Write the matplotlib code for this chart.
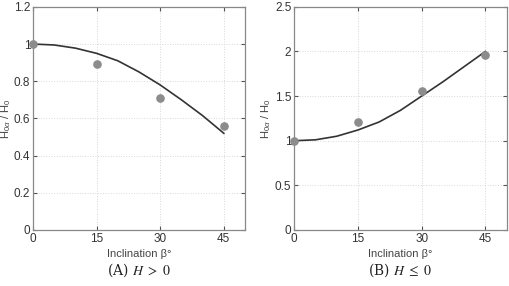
import matplotlib
matplotlib.use("Agg")
import matplotlib.pyplot as plt
from matplotlib.ticker import FormatStrFormatter

plt.rcParams['font.family'] = ['Liberation Sans', 'DejaVu Sans']
plt.rcParams['mathtext.fontset'] = 'custom'
plt.rcParams['mathtext.rm'] = 'Liberation Sans'
plt.rcParams['mathtext.it'] = 'Liberation Sans:italic'

# measured points
beta = [0, 15, 30, 45]
ratio_pos = [1.0, 0.89, 0.71, 0.56]
ratio_neg = [1.0, 1.21, 1.56, 1.96]

# fitted curves
beta_fit = [0, 5, 10, 15, 20, 25, 30, 35, 40, 45]
fit_pos = [1.0, 0.995, 0.978, 0.95, 0.91, 0.85, 0.78, 0.70, 0.615, 0.52]
fit_neg = [1.0, 1.01, 1.05, 1.12, 1.21, 1.34, 1.50, 1.66, 1.83, 2.0]

xticks = [0, 15, 30, 45]
yticks_pos = [0, 0.2, 0.4, 0.6, 0.8, 1.0, 1.2]
yticks_neg = [0, 0.5, 1.0, 1.5, 2.0, 2.5]

fig = plt.figure(figsize=(5.09, 2.86), dpi=100)
ax1 = fig.add_axes([0.0648, 0.196, 0.4165, 0.78])
ax2 = fig.add_axes([0.578, 0.196, 0.4173, 0.78])

panels = [
    (ax1, ratio_pos, fit_pos, yticks_pos, 1.2, r'(A) $H\ >\ 0$', 6),
    (ax2, ratio_neg, fit_neg, yticks_neg, 2.5, r'(B) $H\ \leq\ 0$', 266),
]

for ax, pts, fit, yt, ymax, cap, ylab_x in panels:
    ax.plot(beta_fit, fit, color='#333333', lw=1.2, zorder=3)
    ax.plot(beta, pts, 'o', color='#8c8c8c', ms=5.2, zorder=4, clip_on=False)
    ax.set_xlim(0, 50)
    ax.set_ylim(0, ymax)
    ax.set_xticks(xticks)
    ax.set_yticks(yt)
    ax.yaxis.set_major_formatter(FormatStrFormatter('%g'))
    ax.grid(True, ls=':', color='#d8d8d8', lw=0.7)
    ax.tick_params(direction='in', length=3, labelsize=8.5, colors='#555555',
                   labelcolor='#333333', top=True, right=True, pad=2)
    for s in ax.spines.values():
        s.set_color('#888888')
        s.set_linewidth(0.9)
    ax.set_xlabel('Inclination β°', fontsize=8, color='#444444', labelpad=3)
    fig.text(ylab_x / 509, 0.585, r'H$_{0\alpha}$ / H$_0$', rotation=90,
             ha='center', va='center', fontsize=8, color='#444444')
    ax.text(0.5, -0.18, cap, transform=ax.transAxes, ha='center', va='center',
            fontsize=10, family='DejaVu Serif', math_fontfamily='stix', color='#222222')

fig.savefig('out.png', dpi=100)
